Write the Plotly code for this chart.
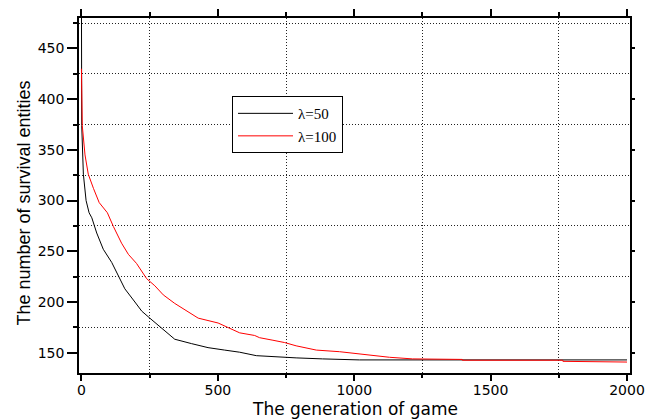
import plotly.graph_objects as go

# Survival curves: number of surviving entities per generation
gen_l50 = [0, 1, 7, 17, 28, 38, 56, 80, 111, 135, 159, 196, 221, 251, 294, 342,
           403, 464, 525, 580, 641, 726, 787, 884, 1019, 1019, 2000]
surv_l50 = [500, 374, 326, 300, 288, 283, 268, 252, 239, 226, 213, 200, 191, 184, 174.5, 163.3,
            159, 155, 152.6, 150.5, 147.1, 145.5, 144.9, 143.9, 143.4, 142.9, 142.9]

gen_l100 = [0, 3, 13, 25, 44, 65, 95, 117, 147, 172, 202, 239, 269, 300, 342,
            391, 428, 501, 550, 580, 635, 653, 702, 745, 787, 861, 946, 1007, 1068,
            1129, 1214, 1312, 1396, 1396, 1765, 1765, 1797, 1797, 2000]
surv_l100 = [430, 374, 345, 326, 312, 298, 288, 274.5, 258, 247, 238, 223, 216, 207, 198.6,
             190.6, 184.1, 179.3, 173, 169.6, 167, 164.8, 162.3, 160, 156.8, 152.6, 151, 149.3, 147.1,
             145.5, 143.9, 143.4, 143.4, 142.6, 142.6, 141.5, 141.5, 140.8, 140.8]

x_ticks = [0, 500, 1000, 1500, 2000]
x_minor = [250, 750, 1250, 1750]
y_ticks = [150, 200, 250, 300, 350, 400, 450]
y_minor = [175, 225, 275, 325, 375, 425, 475]
x_range = [-9, 2011]
y_range = [130, 480]

fig = go.Figure()
fig.add_trace(go.Scatter(x=gen_l50, y=surv_l50, mode="lines", name="λ=50",
                         line=dict(color="#000000", width=1)))
fig.add_trace(go.Scatter(x=gen_l100, y=surv_l100, mode="lines", name="λ=100",
                         line=dict(color="#ff0000", width=1)))
# empty trace so the mirrored top/right axes get drawn
fig.add_trace(go.Scatter(x=[], y=[], xaxis="x2", yaxis="y2", showlegend=False,
                         hoverinfo="skip"))

tick_font = dict(family="DejaVu Sans", size=14, color="#000")
grid_dash = "1px,2px"

fig.update_layout(
    width=665, height=420,
    margin=dict(l=79, r=35, t=11, b=47),
    paper_bgcolor="white", plot_bgcolor="white",
    showlegend=True,
    legend=dict(x=0.2777, y=0.78, xanchor="left", yanchor="top",
                bgcolor="white", bordercolor="#000", borderwidth=1,
                font=dict(family="Liberation Serif", size=15, color="#000"),
                itemwidth=55, tracegroupgap=0),
    xaxis=dict(range=x_range, tickvals=x_ticks, showgrid=False, zeroline=False,
               showline=True, linecolor="#000", linewidth=1.5,
               ticks="outside", ticklen=6, tickwidth=1.5, tickcolor="#000",
               tickfont=tick_font, ticklabelstandoff=-3,
               minor=dict(tickvals=x_minor, ticks="outside", ticklen=3,
                          tickcolor="#000", showgrid=True, griddash=grid_dash,
                          gridcolor="#222", gridwidth=1)),
    xaxis2=dict(range=x_range, overlaying="x", side="top", matches="x",
                tickvals=x_ticks, showticklabels=False, showgrid=False, zeroline=False,
                showline=True, linecolor="#000", linewidth=1.5,
                ticks="outside", ticklen=7, tickwidth=1.5, tickcolor="#000",
                minor=dict(tickvals=x_minor, ticks="outside", ticklen=4,
                           tickcolor="#000", showgrid=False)),
    yaxis=dict(range=y_range, tickvals=y_ticks, showgrid=False, zeroline=False,
               showline=True, linecolor="#000", linewidth=1.5,
               ticks="outside", ticklen=10, tickwidth=1.5, tickcolor="#000",
               tickfont=tick_font,
               minor=dict(tickvals=y_minor, ticks="outside",
                          ticklen=4, tickcolor="#000", showgrid=True, griddash=grid_dash,
                          gridcolor="#222", gridwidth=1)),
    yaxis2=dict(range=y_range, overlaying="y", side="right", matches="y",
                anchor="x2", tickvals=y_ticks, showticklabels=False, showgrid=False,
                zeroline=False, showline=True, linecolor="#000", linewidth=1.5,
                ticks="outside", ticklen=3, tickwidth=1.5, tickcolor="#000"),
    annotations=[
        dict(text="The generation of game", xref="paper", yref="paper",
             x=0.501, y=-0.102, xanchor="center", yanchor="middle", showarrow=False,
             font=dict(family="DejaVu Sans", size=17, color="#000")),
        dict(text="The number of survival entities", xref="paper", yref="paper",
             x=-0.0998, y=0.4775, xanchor="center", yanchor="middle", showarrow=False,
             textangle=-90,
             font=dict(family="Liberation Sans", size=18, color="#000")),
    ],
)

fig.write_html("out.html")
